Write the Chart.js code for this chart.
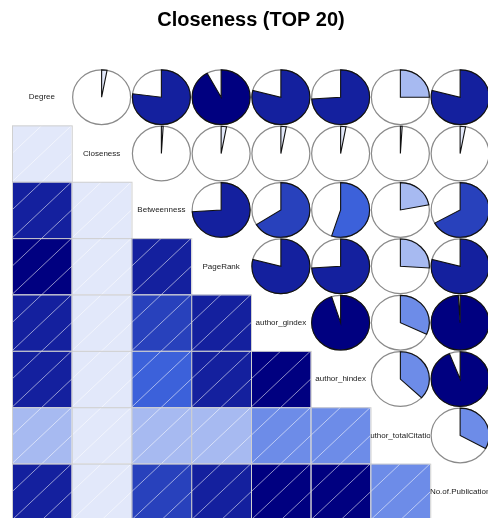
<!DOCTYPE html>
<html>
<head>
<meta charset="utf-8">
<script src="https://cdn.jsdelivr.net/npm/chart.js@4/dist/chart.umd.min.js"></script>
<style>
  html, body { margin: 0; padding: 0; background: #fff; overflow: hidden; }
  canvas { display: block; }
</style>
</head>
<body>
<canvas id="corrgram" width="500" height="530"></canvas>
<script>
var FONT = "'Liberation Sans', Arial, sans-serif"

var variables = [
  "Degree",
  "Closeness",
  "Betweenness",
  "PageRank",
  "author_gindex",
  "author_hindex",
  "author_totalCitation",
  "No.of.Publication"
]

// correlation rows, same order as variables
var corDegree        = [1.00, 0.03, 0.77, 0.92, 0.79, 0.74, 0.25, 0.79]
var corCloseness     = [0.03, 1.00, 0.01, 0.03, 0.03, 0.03, 0.01, 0.03]
var corBetweenness   = [0.77, 0.01, 1.00, 0.74, 0.66, 0.55, 0.22, 0.67]
var corPageRank      = [0.92, 0.03, 0.74, 1.00, 0.79, 0.74, 0.26, 0.79]
var corGindex        = [0.79, 0.03, 0.66, 0.79, 1.00, 0.95, 0.32, 0.99]
var corHindex        = [0.74, 0.03, 0.55, 0.74, 0.95, 1.00, 0.37, 0.94]
var corTotalCitation = [0.25, 0.01, 0.22, 0.26, 0.32, 0.37, 1.00, 0.33]
var corPublication   = [0.79, 0.03, 0.67, 0.79, 0.99, 0.94, 0.33, 1.00]

var corRows = [corDegree, corCloseness, corBetweenness, corPageRank,
               corGindex, corHindex, corTotalCitation, corPublication]

// red - salmon - white - royalblue - navy, cut into 14 bins over [-1, 1]
var RAMP = [[255, 0, 0], [250, 128, 114], [255, 255, 255], [65, 105, 225], [0, 0, 128]]
var NCOL = 14
var palette = []
for (var k = 0; k < NCOL; k++) {
  var t = k / (NCOL - 1) * (RAMP.length - 1)
  var s = Math.min(Math.floor(t), RAMP.length - 2)
  var f = t - s
  var c = RAMP[s].map(function (v, m) { return Math.round(v + (RAMP[s + 1][m] - v) * f) })
  palette.push("rgb(" + c.join(",") + ")")
}
function corColor(r) {
  var idx = Math.ceil((r + 1) / 2 * NCOL) - 1
  return palette[Math.max(0, Math.min(NCOL - 1, idx))]
}

var points = []
corRows.forEach(function (row, i) {
  row.forEach(function (r, j) { points.push({x: j + 0.5, y: i + 0.5, r: r}) })
})

var corrgramPanels = {
  id: "corrgramPanels",
  afterDatasetsDraw: function (chart) {
    var ctx = chart.ctx
    var xs = chart.scales.x, ys = chart.scales.y
    var n = variables.length
    for (var i = 0; i < n; i++) {
      for (var j = 0; j < n; j++) {
        var x0 = xs.getPixelForValue(j), x1 = xs.getPixelForValue(j + 1)
        var y0 = ys.getPixelForValue(i), y1 = ys.getPixelForValue(i + 1)
        var w = x1 - x0, h = y1 - y0
        var r = corRows[i][j]
        ctx.save()
        if (i > j) {
          // shaded cell with hatching
          ctx.beginPath()
          ctx.rect(x0, y0, w, h)
          ctx.clip()
          ctx.fillStyle = corColor(r)
          ctx.fillRect(x0, y0, w, h)
          ctx.strokeStyle = "rgba(255,255,255,0.55)"
          ctx.lineWidth = 1
          ;[-0.5, 0, 0.5].forEach(function (off) {
            ctx.beginPath()
            ctx.moveTo(x0 - w, y1 - (-1 + off) * h)
            ctx.lineTo(x0 + 2 * w, y1 - (2 + off) * h)
            ctx.stroke()
          })
          ctx.restore()
          ctx.save()
          ctx.strokeStyle = "#d0d0d0"
          ctx.lineWidth = 1
          ctx.strokeRect(x0 + 0.5, y0 + 0.5, w, h)
        } else if (i < j) {
          // pie: filled share = correlation, clockwise from 12 o'clock
          var cx = (x0 + x1) / 2, cy = (y0 + y1) / 2
          var rx = 0.485 * w, ry = 0.485 * h
          ctx.beginPath()
          ctx.ellipse(cx, cy, rx, ry, 0, 0, 2 * Math.PI)
          ctx.fillStyle = "#fff"
          ctx.fill()
          ctx.strokeStyle = "#8a8a8a"
          ctx.lineWidth = 1.2
          ctx.stroke()
          var a0 = -Math.PI / 2
          ctx.beginPath()
          ctx.moveTo(cx, cy)
          ctx.ellipse(cx, cy, rx, ry, 0, a0, a0 + 2 * Math.PI * r, false)
          ctx.closePath()
          ctx.fillStyle = corColor(r)
          ctx.fill()
          ctx.strokeStyle = "#111"
          ctx.lineWidth = 1.1
          ctx.stroke()
        } else {
          // variable name on the diagonal, clipped to its cell
          ctx.beginPath()
          ctx.rect(x0, y0, w, h)
          ctx.clip()
          ctx.fillStyle = "#1a1a1a"
          ctx.font = "8px " + FONT
          ctx.textAlign = "center"
          ctx.textBaseline = "middle"
          ctx.fillText(variables[i], (x0 + x1) / 2, (y0 + y1) / 2)
        }
        ctx.restore()
      }
    }
  }
}

var chart = new Chart(document.getElementById("corrgram"), {
  type: "scatter",
  data: {
    datasets: [{
      data: points,
      pointRadius: 0,
      pointHoverRadius: 0
    }]
  },
  options: {
    responsive: false,
    animation: false,
    devicePixelRatio: 1,
    layout: { padding: { left: 12, right: 10, top: 0, bottom: 10 } },
    scales: {
      x: { type: "linear", min: 0, max: 8, display: false },
      y: { type: "linear", min: 0, max: 8, reverse: true, display: false }
    },
    plugins: {
      legend: { display: false },
      tooltip: { enabled: false },
      title: {
        display: true,
        text: "Closeness (TOP 20)",
        color: "#000",
        font: { family: FONT, size: 20, weight: "bold" },
        padding: { top: 8, bottom: 37 }
      }
    }
  },
  plugins: [corrgramPanels]
})
</script>
</body>
</html>
